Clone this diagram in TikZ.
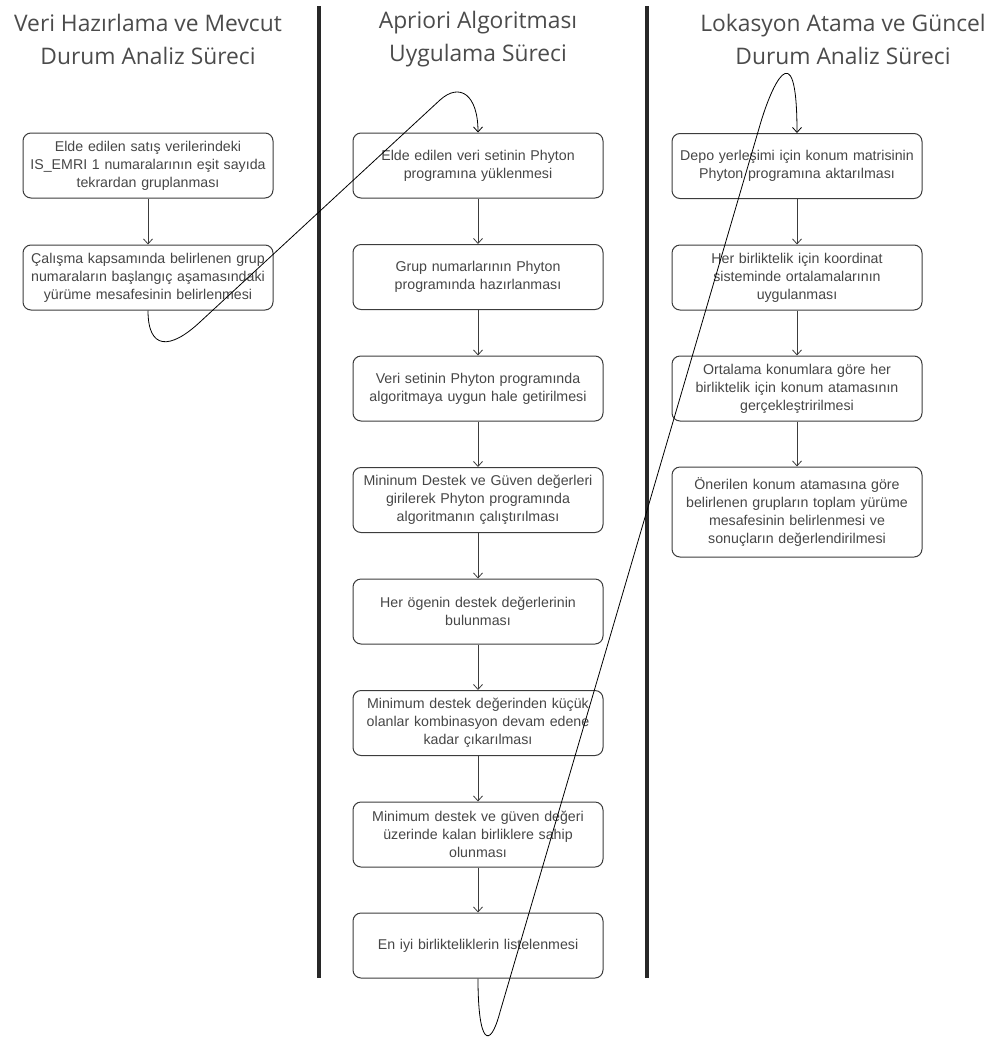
\documentclass[tikz,border=0pt]{standalone}
\usepackage{fontspec}
\setmainfont{Liberation Sans}
\newfontfamily\headfont{Open Sans}
\usetikzlibrary{arrows.meta}
\definecolor{boxline}{RGB}{60, 60, 60}
\definecolor{boxtext}{RGB}{70, 70, 70}
\definecolor{headtext}{RGB}{75, 75, 75}
\definecolor{divider}{RGB}{40, 40, 40}

\begin{document}
\begin{tikzpicture}[x=1pt, y=-1pt,
    stepbox/.style={rectangle, rounded corners=8pt, draw=boxline, line width=1pt, minimum width=250pt, minimum height=65pt, text width=246pt, inner sep=0pt, align=center, text=boxtext, font=\fontsize{14.2}{18}\selectfont},
    header/.style={align=center, text=headtext, font=\headfont\fontsize{22.8}{33}\selectfont},
    flow/.style={-{Straight Barb[length=5pt, width=9pt]}, draw=boxline, line width=0.8pt},
    swoop/.style={-{Straight Barb[length=5pt, width=9pt]}, draw=black, line width=0.8pt}
  ]
  \useasboundingbox (0,0) rectangle (987,1039);

  % column headers
  \node[header] (hveri) at (148, 39) {Veri Hazırlama ve Mevcut\\Durum Analiz Süreci};
  \node[header] (hapri) at (478, 39) {Apriori Algoritması\\Uygulama Süreci};
  \node[header] (hloka) at (843, 39) {Lokasyon Atama ve Güncel\\Durum Analiz Süreci};

  % dividers
  \draw[divider, line width=4pt] (319, 6) -- (319, 978);
  \draw[divider, line width=4pt] (647, 6) -- (647, 978);

  % left column
  \node[stepbox] (veri1) at (148, 165.5) {Elde edilen satış verilerindeki\\IS\_EMRI 1 numaralarının eşit sayıda\\tekrardan gruplanması};
  \node[stepbox] (veri2) at (148, 277.5) {Çalışma kapsamında belirlenen grup\\numaraların başlangıç aşamasındaki\\yürüme mesafesinin belirlenmesi};

  % middle column
  \node[stepbox] (apri1) at (478, 165.5) {Elde edilen veri setinin Phyton\\programına yüklenmesi};
  \node[stepbox] (apri2) at (478, 277) {Grup numarlarının Phyton\\programında hazırlanması};
  \node[stepbox] (apri3) at (478, 388.5) {Veri setinin Phyton programında\\algoritmaya uygun hale getirilmesi};
  \node[stepbox] (apri4) at (478, 500) {Mininum Destek ve Güven değerleri\\girilerek Phyton programında\\algoritmanın çalıştırılması};
  \node[stepbox] (apri5) at (478, 611.5) {Her ögenin destek değerlerinin\\bulunması};
  \node[stepbox] (apri6) at (478, 723) {Minimum destek değerinden küçük\\olanlar kombinasyon devam edene\\kadar çıkarılması};
  \node[stepbox] (apri7) at (478, 834.5) {Minimum destek ve güven değeri\\üzerinde kalan birliklere sahip\\olunması};
  \node[stepbox] (apri8) at (478, 945.5) {En iyi birlikteliklerin listelenmesi};

  % right column
  \node[stepbox] (loka1) at (797, 166) {Depo yerleşimi için konum matrisinin\\Phyton programına aktarılması};
  \node[stepbox] (loka2) at (797, 277.5) {Her birliktelik için koordinat\\sisteminde ortalamalarının\\uygulanması};
  \node[stepbox] (loka3) at (797, 388.5) {Ortalama konumlara göre her\\birliktelik için konum atamasının\\gerçekleştririlmesi};
  \node[stepbox, minimum height=90pt] (loka4) at (797, 512) {Önerilen konum atamasına göre\\belirlenen grupların toplam yürüme\\mesafesinin belirlenmesi ve\\sonuçların değerlendirilmesi};

  \foreach \a/\b in {veri1/veri2, apri1/apri2, apri2/apri3, apri3/apri4, apri4/apri5, apri5/apri6, apri6/apri7, apri7/apri8, loka1/loka2, loka2/loka3, loka3/loka4} {
    \draw[flow] (\a.south) -- (\b.south |- \b.north);
  }

  % links between columns
  \coordinate (lowA) at (200, 322);
  \coordinate (highA) at (440, 100);
  \coordinate (lowB) at (500, 1012);
  \coordinate (highB) at (760, 125);
  \draw[swoop] (veri2.south) .. controls (148, 350) and (170, 350) .. (lowA) -- (highA) .. controls (460, 82) and (478, 95) .. (apri1.north);
  \draw[swoop] (apri8.south) .. controls (478, 1045) and (490, 1050) .. (lowB) -- (highB) .. controls (770, 90) and (797, 25) .. (loka1.north);

\end{tikzpicture}
\end{document}
